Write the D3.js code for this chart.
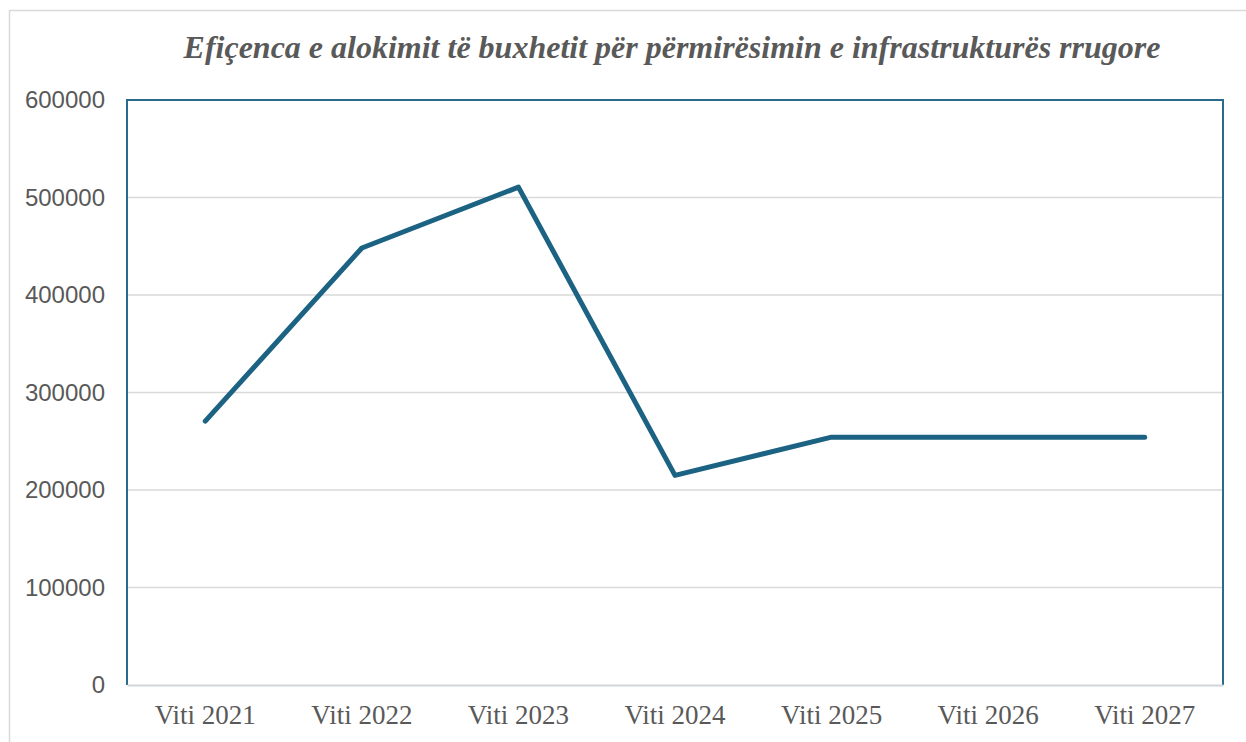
<!DOCTYPE html>
<html>
<head>
<meta charset="utf-8">
<script src="https://cdn.jsdelivr.net/npm/d3@7"></script>
<style>
  body { margin: 0; background: #fff; }
  svg { display: block; }
</style>
</head>
<body>
<svg class="chart"></svg>
<script>
	// data
	var years = ["Viti 2021", "Viti 2022", "Viti 2023", "Viti 2024", "Viti 2025", "Viti 2026", "Viti 2027"];
	var budget = [270600, 448200, 510600, 215000, 254200, 254200, 254200];
	var yTicks = [0, 100000, 200000, 300000, 400000, 500000, 600000];
	var title = "Efiçenca e alokimit të buxhetit për përmirësimin e infrastrukturës rrugore";

	const colors = {
		line: "#1b6283",
		frame: "#2a6a8c",
		grid: "#d9d9d9",
		axis: "#cfd6dc",
		text: "#595959",
		border: "#d9d9d9"
	};
	const W = 1246, H = 742;
	const margin = {top: 100, bottom: 57, left: 127, right: 23};
	var width = W - margin.left - margin.right;
	var height = H - margin.top - margin.bottom;

	var svg = d3.select('.chart')
		.attr('width', W)
		.attr('height', H);

	// outer chart border (cut off at right and bottom)
	svg.append('rect')
		.attr('x', 9.5).attr('y', 10.5)
		.attr('width', W + 20).attr('height', H + 20)
		.attr('fill', 'none')
		.attr('stroke', colors.border)
		.attr('stroke-width', 1.5);

	svg.append('text')
		.attr('x', 672).attr('y', 58)
		.attr('text-anchor', 'middle')
		.attr('font-family', '"Liberation Serif", "Times New Roman", serif')
		.attr('font-style', 'italic')
		.attr('font-weight', 'bold')
		.attr('font-size', 32)
		.attr('fill', colors.text)
		.text(title);

	var chart = svg.append('g')
		.attr('transform', 'translate(' + margin.left + ',' + margin.top + ')');

	var x = d3.scaleBand()
		.domain(years)
		.range([0, width]);

	var y = d3.scaleLinear()
		.domain([0, 600000])
		.range([height, 0]);

	// gridlines
	chart.append('g')
		.selectAll('line')
		.data(yTicks.filter((d) => d > 0 && d < 600000))
		.enter()
		.append('line')
		.attr('x1', 0).attr('x2', width)
		.attr('y1', (d) => y(d)).attr('y2', (d) => y(d))
		.attr('stroke', colors.grid)
		.attr('stroke-width', 1.5);

	// plot area frame: left, top, right in blue
	chart.append('path')
		.attr('d', 'M0,' + height + 'V0H' + width + 'V' + height)
		.attr('fill', 'none')
		.attr('stroke', colors.frame)
		.attr('stroke-width', 2);

	// y axis labels
	var yAxis = chart.append('g')
		.call(d3.axisLeft(y).tickValues(yTicks).tickSize(0).tickPadding(22).tickFormat(d3.format('d')));
	yAxis.select('.domain').remove();
	yAxis.selectAll('text')
		.attr('font-family', '"Liberation Sans", Arial, sans-serif')
		.attr('font-size', 24)
		.attr('fill', colors.text);

	// x axis
	var xAxis = chart.append('g')
		.attr('transform', 'translate(0,' + height + ')')
		.call(d3.axisBottom(x).tickSize(0).tickPadding(20));
	xAxis.select('.domain')
		.attr('stroke', colors.axis)
		.attr('stroke-width', 2);
	xAxis.selectAll('text')
		.attr('font-family', '"Liberation Serif", "Times New Roman", serif')
		.attr('font-size', 27)
		.attr('fill', colors.text)
		.attr('dy', '0.71em');

	var line = d3.line()
		.x((d, i) => x(years[i]) + x.bandwidth() / 2)
		.y((d) => y(d));

	chart.append('path')
		.datum(budget)
		.attr('d', line)
		.attr('fill', 'none')
		.attr('stroke', colors.line)
		.attr('stroke-width', 5)
		.attr('stroke-linejoin', 'round')
		.attr('stroke-linecap', 'round');
</script>
</body>
</html>
